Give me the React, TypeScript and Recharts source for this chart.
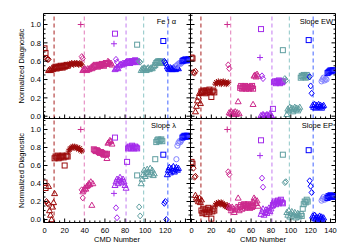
import React from 'react';
import { ScatterChart, Scatter, XAxis, YAxis, ReferenceLine } from 'recharts';

const FONT = '"Liberation Sans", Arial, sans-serif';

// colour per CMD group (last one = light blue open circles)
const groupColors = ['#9b0a0a', '#cc2a8c', '#a32beb', '#5f9ea0', '#0000ff', '#8080ff'];
const cutColors = ['#a82020', '#e27ab8', '#c47cf0', '#8cc6c6', '#4466ff'];
const cutCmds = [9.5, 39.5, 81, 98.5, 122.5];

// one entry per run of consecutive CMDs sharing a symbol
const segGroup = [0, 0, 0, 0, 0, 1, 1, 1, 1, 1, 2, 2, 2, 2, 2, 3, 3, 3, 3, 4, 4, 4, 5, 4];
const segSymbol = [
  'square', 'diamond', 'triangle', 'square', 'star',
  'plus', 'diamond', 'triangle', 'square', 'triangle',
  'square', 'plus', 'diamond', 'triangle', 'square',
  'square', 'diamond', 'triangle', 'square',
  'square', 'diamond', 'triangle', 'circle', 'square',
];
const segFirstCmd = [0, 2, 4, 10, 24, 36, 37, 38, 49, 62, 70, 69, 71, 70, 82, 92, 94, 96, 110, 118, 119, 122, 131, 137];

const feI = [
  [0.74, 0.69],
  [0.63, 0.62, 0.62],
  [0.50, 0.51, 0.50, 0.52, 0.51, 0.52, 0.53],
  [0.53, 0.54, 0.52, 0.53, 0.54, 0.53, 0.55, 0.54, 0.53, 0.55, 0.54, 0.55, 0.56, 0.55],
  [0.56, 0.57, 0.56, 0.58, 0.57, 0.56, 0.58, 0.57, 0.58, 0.57, 0.56, 0.58, 0.57, 0.56],
  [1.0],
  [0.65, 0.63],
  [0.50, 0.51, 0.52, 0.51, 0.50, 0.52, 0.51, 0.52, 0.53, 0.52, 0.53],
  [0.54, 0.55, 0.56, 0.55, 0.54, 0.56, 0.55, 0.56, 0.57, 0.56, 0.55, 0.57, 0.58, 0.57],
  [0.58, 0.60, 0.59, 0.57, 0.58, 0.56],
  [0.90],
  [0.79],
  [0.62, 0.59],
  [0.51, 0.52, 0.53, 0.52, 0.55, 0.56, 0.57, 0.56, 0.58, 0.57, 0.58, 0.59],
  [0.58, 0.59, 0.60, 0.58, 0.59, 0.60, 0.59, 0.60, 0.61, 0.60, 0.59],
  [0.78],
  [0.60, 0.59],
  [0.50, 0.52, 0.51, 0.53, 0.52, 0.50, 0.52, 0.53, 0.51, 0.52, 0.53, 0.52, 0.54, 0.55],
  [0.56, 0.58, 0.59, 0.60, 0.59, 0.60, 0.58, 0.59],
  [0.82],
  [0.60, 0.58, 0.56],
  [0.54, 0.52, 0.51, 0.53, 0.52, 0.51, 0.53, 0.52, 0.51, 0.52, 0.53, 0.52],
  [0.55, 0.56, 0.57, 0.58, 0.57, 0.58],
  [0.60, 0.61, 0.61, 0.62, 0.61, 0.61, 0.62],
];

const slopeEW = [
  [0.64, 0.63],
  [0.48, 0.47, 0.49],
  [0.05, 0.11, 0.17, 0.21, 0.25, 0.14, 0.26],
  [0.27, 0.26, 0.28, 0.27, 0.25, 0.28, 0.26, 0.27, 0.29, 0.26, 0.21, 0.27, 0.28, 0.26],
  [0.35, 0.37, 0.36, 0.38, 0.36, 0.37, 0.35, 0.37, 0.38, 0.36, 0.37, 0.35, 0.36, 0.37],
  [1.0],
  [0.56, 0.52],
  [0.04, 0.03, 0.05, 0.02, 0.04, 0.03, 0.05, 0.02, 0.04, 0.16, 0.03],
  [0.31, 0.33, 0.30, 0.32, 0.31, 0.33, 0.30, 0.32, 0.31, 0.30, 0.32, 0.31, 0.33, 0.30],
  [0.13, 0.44, 0.45, 0.43, 0.46, 0.44],
  [0.95],
  [0.64],
  [0.44, 0.41],
  [0.01, 0.00, 0.02, 0.01, 0.00, 0.01, 0.02, 0.00, 0.01, 0.03, 0.01, 0.00],
  [0.08, 0.37, 0.38, 0.36, 0.38, 0.37, 0.39, 0.36, 0.38, 0.37, 0.38],
  [0.72],
  [0.41, 0.39],
  [0.02, 0.08, 0.06, 0.10, 0.07, 0.09, 0.05, 0.08, 0.10, 0.07, 0.09, 0.06, 0.08, 0.10],
  [0.42, 0.44, 0.43, 0.45, 0.44, 0.42, 0.45, 0.43],
  [0.83],
  [0.43, 0.33, 0.25],
  [0.12, 0.10, 0.13, 0.09, 0.12, 0.11, 0.13, 0.10, 0.12, 0.09, 0.11, 0.12],
  [0.38, 0.40, 0.42, 0.39, 0.41, 0.40],
  [0.47, 0.48, 0.49, 0.50, 0.49, 0.50, 0.50],
];

const slopeLambda = [
  [0.41, 0.35],
  [0.20, 0.18, 0.17],
  [0.37, 0.10, 0.05, 0.00, 0.14, 0.19, 0.29],
  [0.68, 0.70, 0.69, 0.71, 0.68, 0.70, 0.69, 0.70, 0.71, 0.69, 0.60, 0.70, 0.71, 0.70],
  [0.76, 0.78, 0.79, 0.80, 0.81, 0.80, 0.81, 0.80, 0.79, 0.80, 0.78, 0.79, 0.77, 0.76],
  [1.0],
  [0.33, 0.24],
  [0.31, 0.33, 0.35, 0.34, 0.37, 0.38, 0.40, 0.39, 0.42, 0.16, 0.40],
  [0.78, 0.77, 0.76, 0.77, 0.76, 0.75, 0.74, 0.75, 0.74, 0.73, 0.72, 0.73, 0.72, 0.73],
  [0.68, 0.85, 0.86, 0.88, 0.87, 0.84],
  [0.91],
  [0.29],
  [0.13, 0.02],
  [0.38, 0.42, 0.45, 0.40, 0.44, 0.47, 0.43, 0.41, 0.45, 0.42, 0.38, 0.35],
  [0.64, 0.79, 0.80, 0.81, 0.79, 0.82, 0.80, 0.79, 0.81, 0.80, 0.79],
  [0.49],
  [0.14, 0.04],
  [0.40, 0.45, 0.50, 0.55, 0.48, 0.52, 0.56, 0.53, 0.50, 0.57, 0.52, 0.55, 0.49, 0.51],
  [0.67, 0.86, 0.88, 0.89, 0.87, 0.88, 0.89, 0.87],
  [0.72],
  [0.18, 0.20, 0.00],
  [0.50, 0.55, 0.58, 0.52, 0.57, 0.54, 0.59, 0.53, 0.56, 0.58, 0.55, 0.57],
  [0.67, 0.82, 0.85, 0.87, 0.86, 0.88],
  [0.91, 0.92, 0.93, 0.92, 0.93, 0.93, 0.92],
];

const slopeEP = [
  [0.64, 0.62],
  [0.57, 0.47, 0.48],
  [0.27, 0.24, 0.22, 0.20, 0.24, 0.19, 0.22],
  [0.10, 0.07, 0.12, 0.08, 0.11, 0.06, 0.10, 0.13, 0.08, 0.11, 0.01, 0.09, 0.12, 0.10],
  [0.16, 0.18, 0.17, 0.19, 0.18, 0.17, 0.19, 0.18, 0.16, 0.17, 0.15, 0.14, 0.16, 0.13],
  [1.0],
  [0.53, 0.50],
  [0.15, 0.13, 0.10, 0.14, 0.12, 0.08, 0.11, 0.14, 0.12, 0.24, 0.10],
  [0.14, 0.16, 0.12, 0.15, 0.17, 0.13, 0.16, 0.14, 0.17, 0.15, 0.13, 0.16, 0.14, 0.15],
  [0.20, 0.24, 0.22, 0.18, 0.21, 0.15],
  [0.88],
  [0.71],
  [0.46, 0.36],
  [0.06, 0.09, 0.12, 0.05, 0.08, 0.11, 0.07, 0.10, 0.13, 0.09, 0.12, 0.15],
  [0.16, 0.18, 0.20, 0.17, 0.19, 0.21, 0.18, 0.20, 0.22, 0.19, 0.18],
  [0.72],
  [0.41, 0.42],
  [0.08, 0.05, 0.10, 0.03, 0.07, 0.09, 0.04, 0.06, 0.08, 0.02, 0.05, 0.07, 0.03, 0.05],
  [0.06, 0.04, 0.12, 0.17, 0.20, 0.19, 0.22, 0.20],
  [0.77],
  [0.43, 0.37, 0.30],
  [0.04, 0.02, 0.05, 0.01, 0.03, 0.00, 0.02, 0.04, 0.01, 0.03, 0.00, 0.02],
  [0.21, 0.23, 0.25, 0.22, 0.24, 0.23],
  [0.24, 0.26, 0.25, 0.27, 0.26, 0.25, 0.26],
];

const xDomain = [-1, 145];
const xTicks = [0, 5, 10, 15, 20, 25, 30, 35, 40, 45, 50, 55, 60, 65, 70, 75, 80, 85, 90, 95, 100, 105, 110, 115, 120, 125, 130, 135, 140];
const yTicks = [0, 0.05, 0.1, 0.15, 0.2, 0.25, 0.3, 0.35, 0.4, 0.45, 0.5, 0.55, 0.6, 0.65, 0.7, 0.75, 0.8, 0.85, 0.9, 0.95, 1.0, 1.05, 1.1];

function Marker({ cx, cy, color, symbol }: any) {
  const s = { stroke: color, strokeWidth: 1, fill: 'none' };
  if (symbol === 'square') return <rect x={cx - 2.5} y={cy - 2.5} width={5} height={5} {...s} />;
  if (symbol === 'triangle')
    return <path d={`M${cx},${cy - 3}L${cx + 3},${cy + 2.2}L${cx - 3},${cy + 2.2}Z`} {...s} />;
  if (symbol === 'diamond')
    return <path d={`M${cx},${cy - 3}L${cx + 2.6},${cy}L${cx},${cy + 3}L${cx - 2.6},${cy}Z`} {...s} />;
  if (symbol === 'circle') return <circle cx={cx} cy={cy} r={2.6} {...s} />;
  if (symbol === 'plus')
    return <path d={`M${cx - 3},${cy}H${cx + 3}M${cx},${cy - 3}V${cy + 3}`} {...s} />;
  // asterisk
  return (
    <path
      d={`M${cx - 3},${cy}H${cx + 3}M${cx},${cy - 3}V${cy + 3}M${cx - 2.2},${cy - 2.2}L${cx + 2.2},${cy + 2.2}M${cx - 2.2},${cy + 2.2}L${cx + 2.2},${cy - 2.2}`}
      {...s}
    />
  );
}

const isMajorX = (v: number) => v % 20 === 0;
const isMajorY = (v: number) => Math.round(v * 100) % 20 === 0;

function makeTick(side: string, labels: boolean, maxLabel = 999) {
  return (p: any) => {
    const { x, y } = p;
    const v = p.payload.value;
    const horiz = side === 'bottom' || side === 'top';
    const major = horiz ? isMajorX(v) : isMajorY(v);
    const len = major ? 4 : 2;
    let line;
    if (side === 'bottom') line = <line x1={x} y1={y} x2={x} y2={y - len} stroke="#000" />;
    else if (side === 'top') line = <line x1={x} y1={y} x2={x} y2={y + len} stroke="#000" />;
    else if (side === 'left') line = <line x1={x} y1={y} x2={x + len} y2={y} stroke="#000" />;
    else line = <line x1={x} y1={y} x2={x - len} y2={y} stroke="#000" />;
    let text = null;
    if (labels && major && v <= maxLabel) {
      text =
        side === 'bottom' ? (
          <text x={x} y={y + 10} textAnchor="middle" fontSize={7.5} fontFamily={FONT} fill="#000">
            {String(v)}
          </text>
        ) : (
          <text x={x - 2.5} y={y + 2.7} textAnchor="end" fontSize={7.5} fontFamily={FONT} fill="#000">
            {v.toFixed(1)}
          </text>
        );
    }
    return (
      <g>
        {line}
        {text}
      </g>
    );
  };
}

function Panel({ values, box, yDomain, showY, showX, maxXLabel }: any) {
  const [l, r, t, b] = box;
  const margin = { top: t - 10, left: l - 10, right: 350 - r - 10, bottom: 250 - b - 10 };
  return (
    <div style={{ position: 'absolute', left: 0, top: 0 }}>
      <ScatterChart width={350} height={250} margin={margin}>
        <XAxis
          xAxisId="b" type="number" dataKey="x" orientation="bottom" domain={xDomain} allowDataOverflow
          ticks={xTicks} interval={0} height={10} tickSize={0} tickMargin={0} tickLine={false}
          axisLine={{ stroke: '#000' }} tick={makeTick('bottom', showX, maxXLabel)}
        />
        <XAxis
          xAxisId="t" type="number" orientation="top" domain={xDomain} allowDataOverflow
          ticks={xTicks} interval={0} height={10} tickSize={0} tickMargin={0} tickLine={false}
          axisLine={{ stroke: '#000' }} tick={makeTick('top', false)}
        />
        <YAxis
          yAxisId="l" type="number" dataKey="y" orientation="left" domain={yDomain} allowDataOverflow
          ticks={yTicks} interval={0} width={10} tickSize={0} tickMargin={0} tickLine={false}
          axisLine={{ stroke: '#000' }} tick={makeTick('left', showY)}
        />
        <YAxis
          yAxisId="r" type="number" orientation="right" domain={yDomain} allowDataOverflow
          ticks={yTicks} interval={0} width={10} tickSize={0} tickMargin={0} tickLine={false}
          axisLine={{ stroke: '#000' }} tick={makeTick('right', false)}
        />
        {cutCmds.map((c, i) => (
          <ReferenceLine
            key={'cut' + i} x={c} xAxisId="b" yAxisId="l"
            stroke={cutColors[i]} strokeWidth={1} strokeDasharray="4 3"
          />
        ))}
        {values.map((ys: number[], si: number) => {
          const color = groupColors[segGroup[si]];
          const symbol = segSymbol[si];
          const data = ys.map((y, k) => ({ x: segFirstCmd[si] + k, y }));
          return (
            <Scatter
              key={'s' + si} data={data} xAxisId="b" yAxisId="l" isAnimationActive={false}
              shape={(p: any) => <Marker cx={p.cx} cy={p.cy} color={color} symbol={symbol} />}
            />
          );
        })}
      </ScatterChart>
    </div>
  );
}

const topY = [-0.025, 1.12];
const bottomY = [-0.033, 1.122];

export default function App() {
  const textStyle = { fontFamily: FONT, fill: '#000' };
  return (
    <div style={{ position: 'absolute', left: 0, top: 0, width: 350, height: 250, background: '#fff' }}>
      <Panel values={feI} box={[43.5, 190.5, 13.5, 118.5]} yDomain={topY} showY showX={false} />
      <Panel values={slopeEW} box={[190.5, 335.5, 13.5, 118.5]} yDomain={topY} showY={false} showX={false} />
      <Panel values={slopeLambda} box={[43.5, 190.5, 118.5, 222.5]} yDomain={bottomY} showY showX maxXLabel={120} />
      <Panel values={slopeEP} box={[190.5, 335.5, 118.5, 222.5]} yDomain={bottomY} showY={false} showX />
      <svg width={350} height={250} style={{ position: 'absolute', left: 0, top: 0, pointerEvents: 'none' }}>
        <text x={176} y={24} textAnchor="end" fontSize={7.5} {...textStyle}>Fe I α</text>
        <text x={333} y={24} textAnchor="end" fontSize={7.5} {...textStyle}>Slope EW</text>
        <text x={176} y={128} textAnchor="end" fontSize={7.5} {...textStyle}>Slope λ</text>
        <text x={333} y={128} textAnchor="end" fontSize={7.5} {...textStyle}>Slope EP</text>
        <text transform="translate(24,66) rotate(-90)" textAnchor="middle" fontSize={7.5} {...textStyle}>
          Normalized Diagnostic
        </text>
        <text transform="translate(24,170.5) rotate(-90)" textAnchor="middle" fontSize={7.5} {...textStyle}>
          Normalized Diagnostic
        </text>
        <text x={117} y={242} textAnchor="middle" fontSize={7.5} {...textStyle}>CMD Number</text>
        <text x={263} y={242} textAnchor="middle" fontSize={7.5} {...textStyle}>CMD Number</text>
      </svg>
    </div>
  );
}
